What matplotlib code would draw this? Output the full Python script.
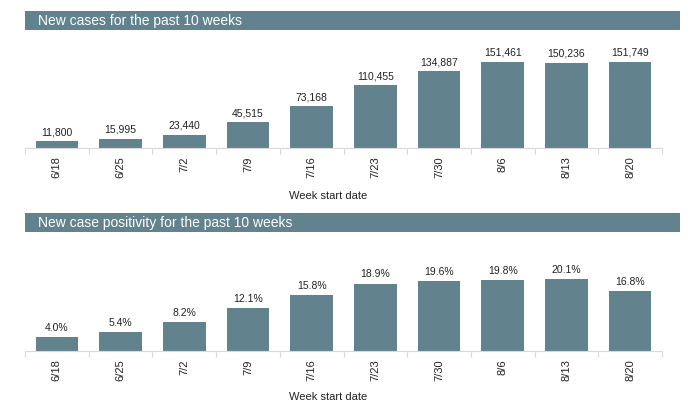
import matplotlib
matplotlib.use("Agg")
import matplotlib.pyplot as plt
from matplotlib.patches import Rectangle

plt.rcParams['font.family'] = ['Liberation Sans', 'DejaVu Sans']

# data
weeks = ['6/18', '6/25', '7/2', '7/9', '7/16', '7/23', '7/30', '8/6', '8/13', '8/20']
new_cases = [11800, 15995, 23440, 45515, 73168, 110455, 134887, 151461, 150236, 151749]
positivity = [4.0, 5.4, 8.2, 12.1, 15.8, 18.9, 19.6, 19.8, 20.1, 16.8]

bar_color = '#62838e'
W, H = 690, 407

fig = plt.figure(figsize=(6.9, 4.07), dpi=100)


def px(x0, y0, x1, y1):
    # pixel box -> figure fraction [left, bottom, width, height]
    return [x0 / W, 1 - y1 / H, (x1 - x0) / W, (y1 - y0) / H]


def panel(title, bar_top, bar_bot, ax_bot, vals, ymax, fmt, xlabel_y):
    # title bar
    fig.patches.append(Rectangle((25 / W, 1 - bar_bot / H), (680 - 25) / W, (bar_bot - bar_top) / H,
                                 transform=fig.transFigure, facecolor=bar_color, edgecolor='none'))
    fig.text(38 / W, 1 - (bar_top + bar_bot) / 2 / H, title, color='white', fontsize=10,
             va='center', ha='left')

    ax = fig.add_axes(px(25, bar_bot, 662, ax_bot))
    x = list(range(len(vals)))
    bars = ax.bar(x, vals, width=0.67, color=bar_color)
    ax.set_xlim(-0.5, len(vals) - 0.5)
    ax.set_ylim(0, ymax)
    for b, v in zip(bars, vals):
        ax.annotate(fmt(v), (b.get_x() + b.get_width() / 2, v), xytext=(0, 3),
                    textcoords='offset points', ha='center', va='bottom', fontsize=7.5,
                    color='#222222')
    for s in ['top', 'right', 'left']:
        ax.spines[s].set_visible(False)
    ax.spines['bottom'].set_color('#d9d9d9')
    ax.set_yticks([])
    # boundary ticks between weeks, labels on minor ticks at bar centres
    ax.set_xticks([i - 0.5 for i in range(len(vals) + 1)], minor=False)
    ax.set_xticklabels([])
    ax.tick_params(axis='x', which='major', length=4, color='#d9d9d9')
    ax.set_xticks(x, minor=True)
    ax.set_xticklabels(weeks, minor=True, rotation=90, fontsize=8, color='#222222')
    ax.tick_params(axis='x', which='minor', length=0, pad=6)
    fig.text(328 / W, 1 - xlabel_y / H, 'Week start date', ha='center', va='center', fontsize=8,
             color='#222222')
    return ax


panel('New cases for the past 10 weeks', 11, 30, 148, new_cases, 208000,
      lambda v: f'{v:,}', 196)
panel('New case positivity for the past 10 weeks', 213, 232, 351, positivity, 33.4,
      lambda v: f'{v:.1f}%', 397)

fig.savefig('out.png', dpi=100, facecolor='white')
